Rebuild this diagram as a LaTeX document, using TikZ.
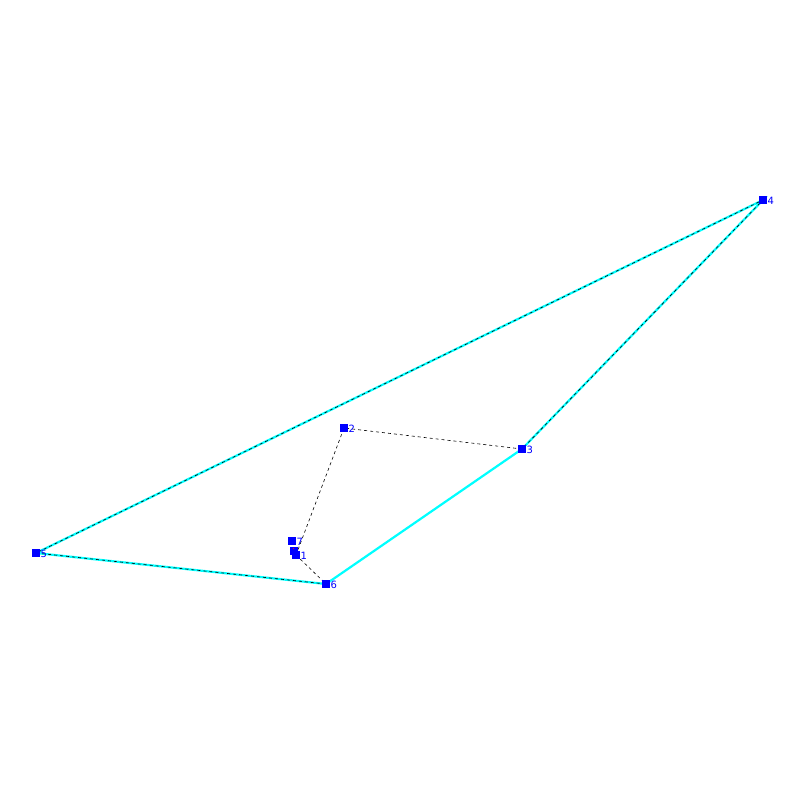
\documentclass[tikz,border=0pt]{standalone}
\usepackage{fontspec}
\setmainfont{DejaVu Sans}
\definecolor{aqua}{RGB}{0,255,255}
\definecolor{pblue}{RGB}{0,0,255}
\definecolor{pred}{RGB}{255,0,0}
\begin{document}
\begin{tikzpicture}[x=1pt,y=-1pt,
  pt/.style={fill=pblue,minimum size=7.5pt,inner sep=0pt,outer sep=0pt,draw=none},
  lbl/.style={text=pblue,font=\fontsize{10}{10}\selectfont,inner sep=0pt,anchor=west},
  edge/.style={draw=aqua,line width=2.2pt},
  walk/.style={draw=black,line width=0.6pt,dash pattern=on 3pt off 3pt}]
\useasboundingbox (0,0) rectangle (800,800);
\fill[white] (0,0) rectangle (800,800);
\coordinate (c1) at (296,555);
\coordinate (c2) at (344,428);
\coordinate (c3) at (522,449);
\coordinate (c4) at (763,200);
\coordinate (c5) at (36,553);
\coordinate (c6) at (326,584);
\coordinate (c7) at (292,541);
\coordinate (c8) at (294,551);
\draw[edge] (c5) -- (c4) -- (c3) -- (c6) -- cycle;
\draw[walk] (c1) -- (c2) -- (c3) -- (c4) -- (c5) -- (c6) -- cycle;
\node[pt] (p7) at (c7) {};
\node[pt] (p8) at (c8) {};
\fill[pred] (292.5,547.5) rectangle (294,549);
\foreach \i in {1,...,6}{\node[pt] (p\i) at (c\i) {};}
\foreach \i in {1,...,7}{\node[lbl] (l\i) at ([xshift=4.5pt,yshift=-0.5pt]c\i) {\i};}
\end{tikzpicture}
\end{document}
